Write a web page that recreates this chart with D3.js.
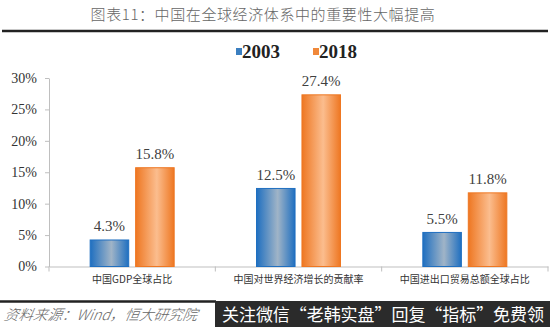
<!DOCTYPE html>
<html><head><meta charset="utf-8">
<script src="https://cdn.jsdelivr.net/npm/d3@7"></script>
<style>body{margin:0;background:#fff;}svg{display:block;}</style>
</head><body>
<script>
const categories = ["中国GDP全球占比", "中国对世界经济增长的贡献率", "中国进出口贸易总额全球占比"];
const seriesNames = ["2003", "2018"];
const values2003 = [4.3, 12.5, 5.5];
const values2018 = [15.8, 27.4, 11.8];
const yTicks = [0, 5, 10, 15, 20, 25, 30];

const W = 550, H = 327;
const svg = d3.select("body").append("svg").attr("width", W).attr("height", H);
const defs = svg.append("defs");
function grad(id, edge, mid) {
  const g = defs.append("linearGradient").attr("id", id).attr("x1", "0%").attr("x2", "100%");
  g.append("stop").attr("offset", "0%").attr("stop-color", edge);
  g.append("stop").attr("offset", "55%").attr("stop-color", mid);
  g.append("stop").attr("offset", "100%").attr("stop-color", edge);
}
grad("gb", "#1f6fc0", "#a0b4c7");
grad("go", "#ee7722", "#fbbd8e");
const fills = ["url(#gb)", "url(#go)"];
const edges = ["#1f6fc0", "#ee7722"];
const solid = ["#3b7fc0", "#f0883a"];

// title
svg.append("text").attr("x", 263).attr("y", 20).attr("text-anchor", "middle")
  .attr("font-family", "Noto Sans CJK SC").attr("font-weight", 300).attr("font-size", 15).attr("fill", "#666")
  .attr("letter-spacing", 0.6)
  .text("图表11：中国在全球经济体系中的重要性大幅提高");
svg.append("line").attr("x1", 2).attr("x2", 548).attr("y1", 31).attr("y2", 31)
  .attr("stroke", "#222").attr("stroke-width", 2.5);

const x0 = d3.scaleBand().domain(categories).range([49, 548]);
const x1 = d3.scaleBand().domain(seriesNames).range([0, 85]).paddingInner(0.13);
const y = d3.scaleLinear().domain([0, 30]).range([266.5, 78]);

// y axis
const yAxis = d3.axisLeft(y).tickValues(yTicks).tickFormat(d => d + "%").tickSize(4).tickSizeOuter(0);
const ga = svg.append("g").attr("transform", "translate(49,0)").call(yAxis);
ga.select(".domain").attr("stroke", "#bfbfbf");
ga.selectAll(".tick line").attr("stroke", "#bfbfbf");
ga.selectAll(".tick text").attr("font-family", "Liberation Serif").attr("font-size", 14)
  .attr("fill", "#333").attr("x", -12);

// x axis
const xAxis = d3.axisBottom(x0).tickSize(0).tickSizeOuter(0);
const gx = svg.append("g").attr("transform", "translate(0,266.5)").call(xAxis);
gx.select(".domain").attr("stroke", "#bfbfbf");
gx.selectAll(".tick text").attr("font-family", "Noto Sans CJK SC").attr("font-size", 10)
  .attr("fill", "#333").attr("dy", "0.71em").attr("y", 9);
const seps = [x0.range()[0]].concat(categories.map(c => x0(c) + x0.bandwidth()));
gx.selectAll(".sep").data(seps).enter().append("line")
  .attr("x1", d => d).attr("x2", d => d).attr("y1", 0).attr("y2", 5)
  .attr("stroke", "#bfbfbf");

const data = categories.map((c, i) => ({c, vals: [values2003[i], values2018[i]]}));
const groups = svg.append("g").selectAll("g").data(data).enter().append("g")
  .attr("transform", d => `translate(${x0(d.c) + (x0.bandwidth() - 85) / 2},0)`);
groups.selectAll("rect").data(d => d.vals.map((v, j) => ({v, s: seriesNames[j], j})))
  .enter().append("rect")
  .attr("x", d => x1(d.s) + 0.5).attr("width", x1.bandwidth() - 1)
  .attr("y", d => y(d.v) + 0.5).attr("height", d => y(0) - y(d.v) - 0.5)
  .attr("fill", d => fills[d.j]).attr("stroke", d => edges[d.j]).attr("stroke-width", 1);
groups.selectAll("text").data(d => d.vals.map((v, j) => ({v, s: seriesNames[j]})))
  .enter().append("text")
  .attr("x", d => x1(d.s) + x1.bandwidth() / 2).attr("y", d => y(d.v) - 8)
  .attr("text-anchor", "middle").attr("font-family", "Liberation Serif").attr("font-size", 15)
  .attr("fill", "#404040").text(d => d.v.toFixed(1) + "%");

// legend
const leg = svg.append("g");
const legX = [236, 313];
seriesNames.forEach((s, j) => {
  leg.append("rect").attr("x", legX[j]).attr("y", 48).attr("width", 6).attr("height", 7).attr("fill", solid[j]);
  leg.append("text").attr("x", legX[j] + 6).attr("y", 58).attr("font-family", "Liberation Serif")
    .attr("font-weight", "bold").attr("font-size", 19).attr("fill", "#222").text(s);
});

// footer
svg.append("line").attr("x1", 0).attr("x2", 216).attr("y1", 301.5).attr("y2", 301.5)
  .attr("stroke", "#222").attr("stroke-width", 2.5);
svg.append("text").attr("x", 4).attr("y", 320).attr("font-family", "Noto Sans CJK SC")
  .attr("font-style", "italic").attr("font-weight", 300).attr("font-size", 14.5).attr("fill", "#666")
  .attr("transform", "skewX(-10) translate(56,0)")
  .text("资料来源：Wind，恒大研究院");
svg.append("rect").attr("x", 215).attr("y", 301).attr("width", 335).attr("height", 26).attr("fill", "#2b2b2b");
svg.append("text").attr("x", 222).attr("y", 321).attr("font-family", "Noto Sans CJK SC")
  .attr("font-size", 17).attr("fill", "#fff").attr("textLength", 322)
  .text("关注微信“老韩实盘”回复“指标”免费领");
</script>
</body></html>
